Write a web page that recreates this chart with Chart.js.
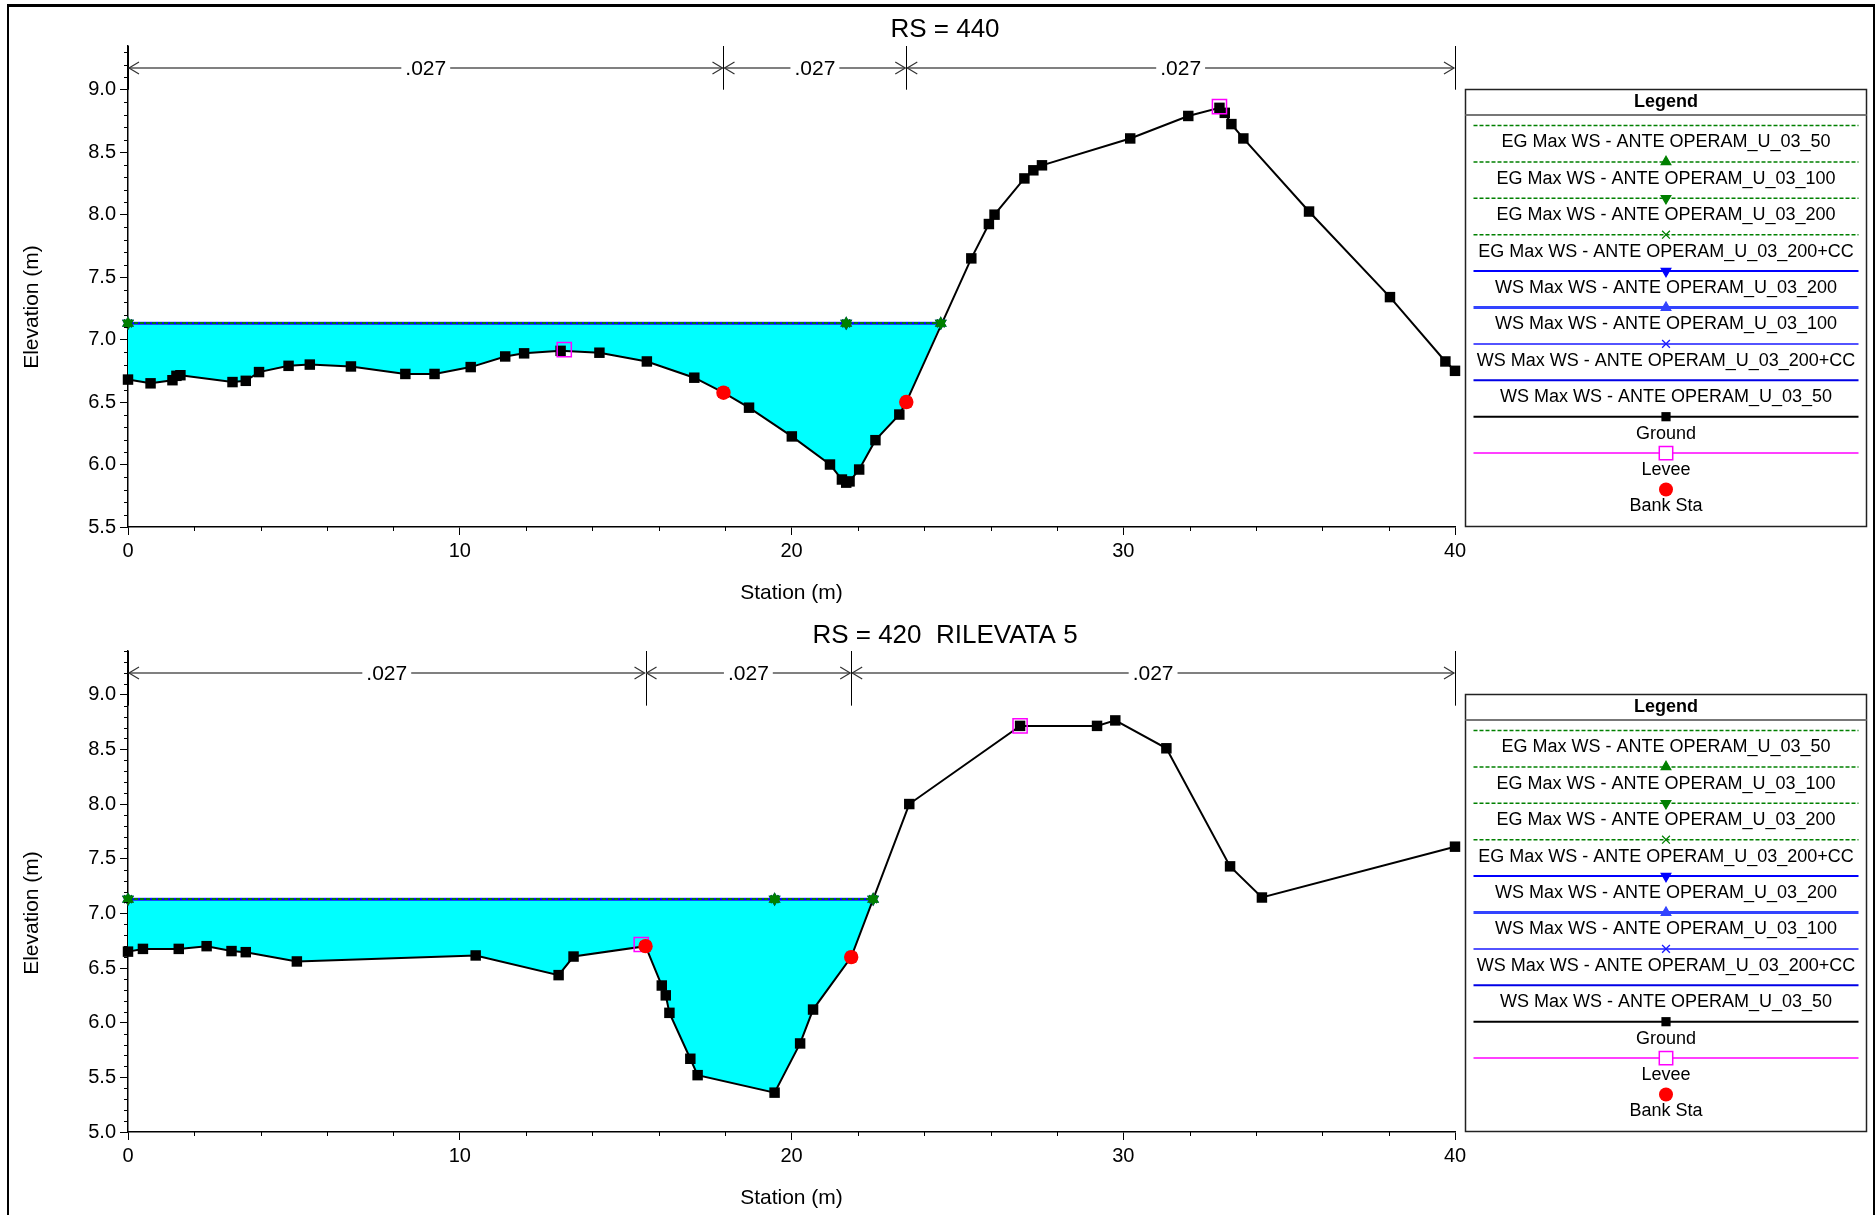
<!DOCTYPE html>
<html>
<head>
<meta charset="utf-8">
<title>Sezioni RS 440 - RS 420</title>
<script src="https://cdn.jsdelivr.net/npm/chart.js@4.4.1/dist/chart.umd.min.js"></script>
<style>
  html, body { margin: 0; padding: 0; background: #fff; }
  #page { position: relative; width: 1876px; height: 1215px; overflow: hidden; }
  #page canvas { position: absolute; left: 0; }
  #frame {
    position: absolute; left: 7px; top: 4px; width: 1868px; height: 1260px;
    box-sizing: border-box; border: 2px solid #000; border-top-width: 3px;
    pointer-events: none;
  }
</style>
</head>
<body>
<div id="page">
  <canvas id="rs440" width="1876" height="607" style="top:0"></canvas>
  <canvas id="rs420" width="1876" height="608" style="top:607px"></canvas>
  <div id="frame"></div>
</div>
<script>
// ---------- RS = 440 ----------
const sta440 = [0, 0.68, 1.34, 1.46, 1.58, 3.15, 3.55, 3.95, 4.84, 5.48, 6.72, 8.36, 9.24, 10.33, 11.37,
  11.94, 13.04, 14.21, 15.64, 17.07, 17.95, 18.72, 20.01, 21.16, 21.52, 21.65, 21.75, 22.04, 22.53, 23.25,
  23.46, 25.42, 25.95, 26.12, 27.02, 27.29, 27.55, 30.21, 31.96, 32.90, 33.06, 33.26, 33.62, 35.60, 38.04,
  39.71, 40.00];
const elev440 = [6.68, 6.65, 6.675, 6.71, 6.715, 6.66, 6.67, 6.74, 6.79, 6.80, 6.785, 6.725, 6.725, 6.78, 6.865,
  6.89, 6.91, 6.895, 6.825, 6.695, 6.575, 6.455, 6.225, 6.00, 5.88, 5.855, 5.865, 5.96, 6.195, 6.40,
  6.50, 7.65, 7.925, 8.00, 8.29, 8.355, 8.395, 8.61, 8.79, 8.855, 8.815, 8.725, 8.61, 8.025, 7.34,
  6.825, 6.75];
const bankSta440 = [17.95, 23.46];
const bankElev440 = [6.575, 6.50];
const leveeSta440 = [13.15, 32.90];
const leveeElev440 = [6.92, 8.865];
const wsElev440 = 7.13;
const wsSta440 = [0, 21.65, 24.5];
const nBreaks440 = [0, 17.95, 23.46, 40];
const nValues440 = ['.027', '.027', '.027'];
const yTicks440 = [5.5, 6.0, 6.5, 7.0, 7.5, 8.0, 8.5, 9.0];

// ---------- RS = 420 ----------
const sta420 = [0, 0.45, 1.53, 2.37, 3.12, 3.55, 5.09, 10.48, 12.98, 13.43, 15.60, 16.09, 16.21, 16.32,
  16.95, 17.17, 19.49, 20.26, 20.65, 21.80, 23.55, 26.89, 29.21, 29.76, 31.30, 33.22, 34.18, 40.00];
const elev420 = [6.65, 6.675, 6.675, 6.70, 6.655, 6.645, 6.56, 6.615, 6.435, 6.605, 6.70, 6.34, 6.25, 6.09,
  5.67, 5.52, 5.36, 5.81, 6.12, 6.60, 8.00, 8.715, 8.715, 8.765, 8.51, 7.43, 7.145, 7.61];
const bankSta420 = [15.60, 21.80];
const bankElev420 = [6.70, 6.60];
const leveeSta420 = [15.47, 26.89];
const leveeElev420 = [6.715, 8.715];
const wsElev420 = 7.13;
const wsSta420 = [0, 19.49, 22.46];
const nBreaks420 = [0, 15.60, 21.80, 40];
const nValues420 = ['.027', '.027', '.027'];
const yTicks420 = [5.0, 5.5, 6.0, 6.5, 7.0, 7.5, 8.0, 8.5, 9.0];

const xTicks = [0, 10, 20, 30, 40];

// profili di calcolo (legenda)
const profileLabels = [
  'EG Max WS - ANTE OPERAM_U_03_50',
  'EG Max WS - ANTE OPERAM_U_03_100',
  'EG Max WS - ANTE OPERAM_U_03_200',
  'EG Max WS - ANTE OPERAM_U_03_200+CC',
  'WS Max WS - ANTE OPERAM_U_03_200',
  'WS Max WS - ANTE OPERAM_U_03_100',
  'WS Max WS - ANTE OPERAM_U_03_200+CC',
  'WS Max WS - ANTE OPERAM_U_03_50'
];
const profileStyles = [
  { color: '#008000', width: 1.5, dash: [4, 2], marker: false, rot: 0 },
  { color: '#008000', width: 1.5, dash: [4, 2], marker: 'triangle', rot: 0 },
  { color: '#008000', width: 1.5, dash: [4, 2], marker: 'triangle', rot: 180 },
  { color: '#008000', width: 1.5, dash: [4, 2], marker: 'crossRot', rot: 0 },
  { color: '#0000ff', width: 2, dash: [], marker: 'triangle', rot: 180 },
  { color: '#3344ff', width: 3, dash: [], marker: 'triangle', rot: 0 },
  { color: '#1a1aff', width: 1.5, dash: [], marker: 'crossRot', rot: 0 },
  { color: '#0000e6', width: 2, dash: [], marker: false, rot: 0 }
];

const FONT = '"Liberation Sans", Arial, Helvetica, sans-serif';
Chart.defaults.font.family = FONT;
Chart.defaults.color = '#000';

function seg(ctx, x0, y0, x1, y1) {
  ctx.beginPath();
  ctx.moveTo(x0, y0);
  ctx.lineTo(x1, y1);
  ctx.stroke();
}

function marker(ctx, style, x, y, r, rot, fill, stroke, bw) {
  ctx.save();
  ctx.setLineDash([]);
  ctx.fillStyle = fill;
  ctx.strokeStyle = stroke;
  ctx.lineWidth = bw;
  Chart.helpers.drawPoint(ctx, { pointStyle: style, rotation: rot, radius: r, borderWidth: bw }, x, y);
  ctx.restore();
}

// titolo, etichette assi, tacche secondarie, scabrezze e legenda
function decorations(cfg) {
  return {
    id: 'decorations',
    afterDraw(chart) {
      const ctx = chart.ctx;
      const area = chart.chartArea;
      const xs = chart.scales.x;
      const ys = chart.scales.y;
      ctx.save();
      ctx.fillStyle = '#000';
      ctx.textAlign = 'center';
      ctx.textBaseline = 'middle';

      ctx.font = '26px ' + FONT;
      ctx.fillText(cfg.title, 945, cfg.titleY);

      ctx.font = '21px ' + FONT;
      ctx.fillText('Station (m)', (area.left + area.right) / 2, area.bottom + 66.5);
      ctx.save();
      ctx.translate(32, cfg.yTitleY);
      ctx.rotate(-Math.PI / 2);
      ctx.fillText('Elevation (m)', 0, 0);
      ctx.restore();

      // tacche secondarie
      ctx.strokeStyle = '#000';
      ctx.lineWidth = 1;
      for (let k = Math.ceil(cfg.yMin * 10); k <= Math.floor(cfg.yMax * 10 + 1e-6); k++) {
        if (k % 5 === 0) continue;
        const py = Math.round(ys.getPixelForValue(k / 10)) + 0.5;
        seg(ctx, area.left - 4, py, area.left, py);
      }
      for (let s = xTicks[0]; s <= xTicks[xTicks.length - 1]; s += 2) {
        if (s % 10 === 0) continue;
        const px = Math.round(xs.getPixelForValue(s)) + 0.5;
        seg(ctx, px, area.bottom, px, area.bottom + 4);
      }

      // coefficienti di Manning
      const ny = area.top + 22;
      const sepBot = ys.getPixelForValue(cfg.sepBottom);
      for (const b of cfg.nBreaks) {
        const px = Math.round(xs.getPixelForValue(b)) + 0.5;
        ctx.strokeStyle = '#000';
        ctx.lineWidth = 1;
        seg(ctx, px, area.top, px, sepBot);
      }
      ctx.font = '21px ' + FONT;
      for (let i = 0; i < cfg.nValues.length; i++) {
        const x0 = xs.getPixelForValue(cfg.nBreaks[i]);
        const x1 = xs.getPixelForValue(cfg.nBreaks[i + 1]);
        const xc = (x0 + x1) / 2;
        const hw = ctx.measureText(cfg.nValues[i]).width / 2 + 4;
        ctx.strokeStyle = '#808080';
        ctx.lineWidth = 2;
        seg(ctx, x0 + 1, ny, xc - hw, ny);
        seg(ctx, xc + hw, ny, x1 - 1, ny);
        ctx.strokeStyle = '#333';
        ctx.lineWidth = 1.2;
        ctx.beginPath();
        ctx.moveTo(x0 + 11, ny - 6); ctx.lineTo(x0 + 1, ny); ctx.lineTo(x0 + 11, ny + 6);
        ctx.moveTo(x1 - 11, ny - 6); ctx.lineTo(x1 - 1, ny); ctx.lineTo(x1 - 11, ny + 6);
        ctx.stroke();
        ctx.fillText(cfg.nValues[i], xc, ny + 1);
      }

      // legenda
      const lx0 = Math.round(area.right + 10) + 0.5;
      const lx1 = chart.width - 9.5;
      const ly0 = Math.round(ys.getPixelForValue(9.0)) - 0.5;
      const ly1 = Math.round(area.bottom) - 0.5;
      const cx = (lx0 + lx1) / 2;
      ctx.fillStyle = '#fff';
      ctx.fillRect(lx0, ly0, lx1 - lx0, ly1 - ly0);
      ctx.strokeStyle = '#222';
      ctx.lineWidth = 1.5;
      ctx.strokeRect(lx0, ly0, lx1 - lx0, ly1 - ly0);
      ctx.strokeStyle = '#777';
      ctx.lineWidth = 2;
      seg(ctx, lx0, ly0 + 25.5, lx1, ly0 + 25.5);
      ctx.fillStyle = '#000';
      ctx.font = 'bold 18px ' + FONT;
      ctx.fillText('Legend', cx, ly0 + 12.5);
      ctx.font = '18px ' + FONT;
      cfg.legend.forEach((it, i) => {
        const yl = ly0 + 36 + 36.4 * i;
        const yt = ly0 + 53 + 36.4 * i;
        if (it.line) {
          ctx.save();
          ctx.strokeStyle = it.color;
          ctx.lineWidth = it.width;
          ctx.setLineDash(it.dash);
          seg(ctx, lx0 + 8, yl, lx1 - 8, yl);
          ctx.restore();
        }
        if (it.marker) {
          marker(ctx, it.marker, cx, yl, it.r, it.rot, it.fill, it.stroke, it.bw);
        }
        ctx.fillStyle = '#000';
        ctx.fillText(it.label, cx, yt);
      });
      ctx.restore();
    }
  };
}

function legendItems() {
  const items = profileLabels.map((label, i) => {
    const s = profileStyles[i];
    return { label, line: true, color: s.color, width: s.width, dash: s.dash,
      marker: s.marker, r: 5.5, rot: s.rot, fill: s.color, stroke: s.color, bw: 1.3 };
  });
  items.push({ label: 'Ground', line: true, color: '#000', width: 2, dash: [],
    marker: 'rect', r: 6.5, rot: 0, fill: '#000', stroke: '#000', bw: 0 });
  items.push({ label: 'Levee', line: true, color: '#ff00ff', width: 1.5, dash: [],
    marker: 'rect', r: 9.5, rot: 0, fill: '#fff', stroke: '#ff00ff', bw: 1.5 });
  items.push({ label: 'Bank Sta', line: false,
    marker: 'circle', r: 7, rot: 0, fill: '#ff0000', stroke: '#ff0000', bw: 0 });
  return items;
}

function drawSection(canvasId, sec) {
  const ground = sec.sta.map((s, i) => ({ x: s, y: sec.elev[i] }));
  const left = sec.wsSta[0];
  const right = sec.wsSta[sec.wsSta.length - 1];
  // area bagnata: fondo compreso tra le sponde bagnate, riempito fino al pelo libero
  const wet = ground.filter(p => p.x >= left && p.x < right);
  wet.push({ x: right, y: sec.wsElev });

  const datasets = [
    { label: 'wet', data: wet, borderWidth: 0, pointRadius: 0, fill: { value: sec.wsElev },
      backgroundColor: '#00ffff', order: 20 },
    { label: 'Ground', data: ground, borderColor: '#000', borderWidth: 2, pointStyle: 'rect',
      pointRadius: 7.4, pointBackgroundColor: '#000', pointBorderWidth: 0, order: 10 }
  ];
  profileLabels.forEach((label, i) => {
    const s = profileStyles[i];
    datasets.push({
      label,
      data: sec.wsSta.map(x => ({ x, y: sec.wsElev })),
      borderColor: s.color, borderWidth: s.width, borderDash: s.dash,
      pointStyle: s.marker || 'circle', pointRadius: s.marker ? 5.5 : 0, pointRotation: s.rot,
      pointBackgroundColor: s.color, pointBorderColor: s.color, pointBorderWidth: 1.5,
      order: 2 + i
    });
  });
  datasets.push({ label: 'Levee', data: sec.leveeSta.map((x, i) => ({ x, y: sec.leveeElev[i] })),
    showLine: false, pointStyle: 'rect', pointRadius: 10, pointBackgroundColor: 'rgba(0,0,0,0)',
    pointBorderColor: '#ff00ff', pointBorderWidth: 1.5, order: 1 });
  datasets.push({ label: 'Bank Sta', data: sec.bankSta.map((x, i) => ({ x, y: sec.bankElev[i] })),
    showLine: false, pointStyle: 'circle', pointRadius: 7.2, pointBackgroundColor: '#ff0000',
    pointBorderWidth: 0, order: 0 });
  datasets.forEach(d => { d.clip = false; d.tension = 0; });

  const axisCommon = {
    type: 'linear',
    grid: { display: true, drawOnChartArea: false, drawTicks: true, tickLength: 8, tickColor: '#000', tickWidth: 1 },
    border: { display: true, color: '#000', width: 1.5 }
  };

  new Chart(document.getElementById(canvasId), {
    type: 'line',
    data: { datasets },
    options: {
      responsive: false,
      animation: false,
      events: [],
      layout: { padding: { left: 8, right: 421, top: sec.padTop, bottom: 0 } },
      plugins: { legend: { display: false }, tooltip: { enabled: false }, title: { display: false } },
      scales: {
        x: Object.assign({}, axisCommon, {
          min: xTicks[0], max: xTicks[xTicks.length - 1],
          ticks: { stepSize: 10, padding: 4, font: { size: 20 }, color: '#000', maxRotation: 0,
            callback: v => String(v) },
          afterBuildTicks: s => { s.ticks = xTicks.map(v => ({ value: v })); },
          afterFit: s => { s.height = sec.xAxisH; }
        }),
        y: Object.assign({}, axisCommon, {
          min: sec.yMin, max: sec.yMax,
          ticks: { stepSize: 0.5, padding: 4, font: { size: 20 }, color: '#000',
            callback: v => Number(v).toFixed(1) },
          afterBuildTicks: s => { s.ticks = sec.yTicks.map(v => ({ value: v })); },
          afterFit: s => { s.width = 120; }
        })
      }
    },
    plugins: [decorations({
      title: sec.title, titleY: sec.titleY, yTitleY: sec.yTitleY,
      yMin: sec.yMin, yMax: sec.yMax, sepBottom: sec.sepBottom,
      nBreaks: sec.nBreaks, nValues: sec.nValues, legend: legendItems()
    })]
  });
}

drawSection('rs440', {
  title: 'RS = 440', titleY: 30, yTitleY: 307,
  sta: sta440, elev: elev440, bankSta: bankSta440, bankElev: bankElev440,
  leveeSta: leveeSta440, leveeElev: leveeElev440, wsElev: wsElev440, wsSta: wsSta440,
  nBreaks: nBreaks440, nValues: nValues440, yTicks: yTicks440,
  yMin: 5.5, yMax: 9.35, sepBottom: 9.0, padTop: 46, xAxisH: 80
});

drawSection('rs420', {
  title: 'RS = 420  RILEVATA 5', titleY: 28.5, yTitleY: 306,
  sta: sta420, elev: elev420, bankSta: bankSta420, bankElev: bankElev420,
  leveeSta: leveeSta420, leveeElev: leveeElev420, wsElev: wsElev420, wsSta: wsSta420,
  nBreaks: nBreaks420, nValues: nValues420, yTicks: yTicks420,
  yMin: 5.0, yMax: 9.4, sepBottom: 8.9, padTop: 44, xAxisH: 83
});
</script>
</body>
</html>
